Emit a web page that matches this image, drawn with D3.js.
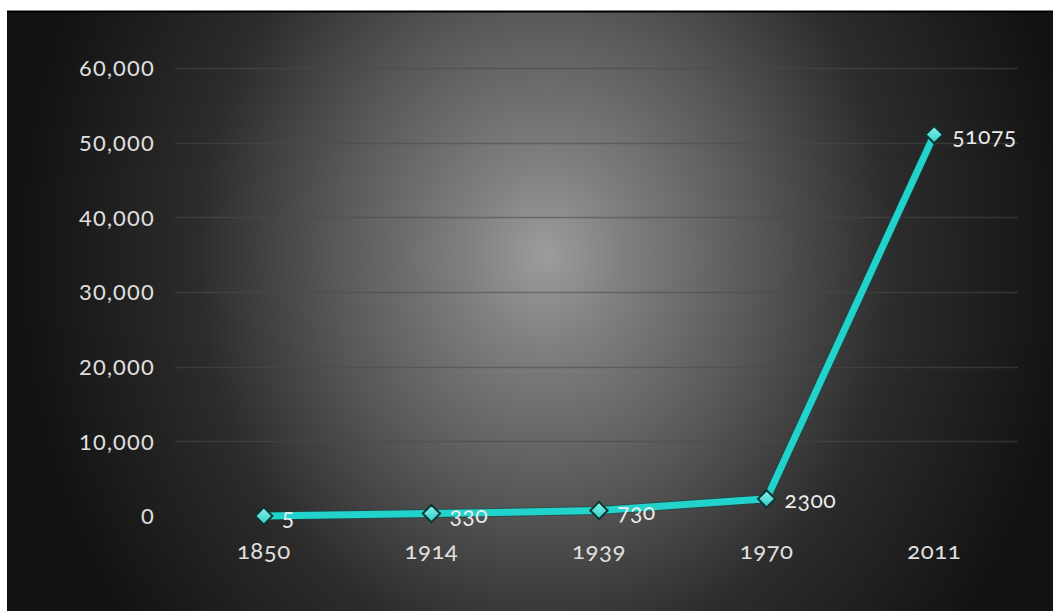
<!DOCTYPE html>
<html>
<head>
<meta charset="utf-8">
<script src="https://cdn.jsdelivr.net/npm/d3@7"></script>
<style>
  html, body { margin: 0; padding: 0; background: #ffffff; }
  svg { display: block; }
  .lbl { font-family: Lato, "Open Sans", sans-serif; }
</style>
</head>
<body>
<svg id="chart" width="1053" height="611"></svg>
<script>
// Population by year
const years = ["1850", "1914", "1939", "1970", "2011"];
const values = [5, 330, 730, 2300, 51075];
const yTicks = [0, 10000, 20000, 30000, 40000, 50000, 60000];

const W = 1053, H = 611;
const svg = d3.select("#chart");

// Dark panel with a soft spotlight in the middle (slightly taller than wide)
const defs = svg.append("defs");
const bg = defs.append("radialGradient")
  .attr("id", "spot")
  .attr("gradientUnits", "userSpaceOnUse")
  .attr("cx", 0).attr("cy", 0).attr("r", 1)
  .attr("gradientTransform", "translate(545,255) scale(535,620)");
bg.append("stop").attr("offset", 0).attr("stop-color", "#9c9c9c");
bg.append("stop").attr("offset", 0.15).attr("stop-color", "#7f7f7f");
bg.append("stop").attr("offset", 0.4).attr("stop-color", "#575757");
bg.append("stop").attr("offset", 0.65).attr("stop-color", "#2c2c2c");
bg.append("stop").attr("offset", 1).attr("stop-color", "#111111");

const mk = defs.append("linearGradient")
  .attr("id", "marker").attr("x1", 0).attr("y1", 0).attr("x2", 0).attr("y2", 1);
mk.append("stop").attr("offset", 0).attr("stop-color", "#8ff0ec");
mk.append("stop").attr("offset", 1).attr("stop-color", "#2bcfc8");

svg.append("rect").attr("x", 7).attr("y", 11).attr("width", W - 7).attr("height", H - 11)
  .attr("fill", "url(#spot)");
svg.append("line").attr("x1", 7).attr("x2", W).attr("y1", 11.5).attr("y2", 11.5)
  .attr("stroke", "#000").attr("stroke-width", 2);

// Scales
const x = d3.scaleBand().domain(years).range([180, 1018]);
const y = d3.scaleLinear().domain([0, 60000]).range([516, 68]);
const cx = d => x(d) + x.bandwidth() / 2;

// Gridlines
svg.append("g").selectAll("line").data(yTicks.filter(t => t > 0)).join("line")
  .attr("x1", 175).attr("x2", 1018)
  .attr("y1", d => Math.round(y(d)) + 0.5).attr("y2", d => Math.round(y(d)) + 0.5)
  .attr("stroke", "#4a4a4a").attr("stroke-width", 1.4).attr("stroke-opacity", 0.55);

// Y axis labels
const yAxis = d3.axisLeft(y).tickValues(yTicks).tickSize(0).tickPadding(0)
  .tickFormat(d3.format(","));
const gy = svg.append("g").attr("transform", "translate(155,0)").call(yAxis);
gy.select(".domain").remove();
gy.selectAll("text").attr("class", "lbl")
  .attr("fill", "#e0e0e0").style("font-size", "22px")
  .style("letter-spacing", "1.2px").attr("dy", "0.35em");

// X axis labels
const xAxis = d3.axisBottom(x).tickSize(0).tickPadding(0);
const gx = svg.append("g").attr("transform", "translate(0,542)").call(xAxis);
gx.select(".domain").remove();
gx.selectAll("text").attr("class", "lbl")
  .attr("fill", "#e0e0e0").style("font-size", "24px")
  .style("letter-spacing", "0.5px")
  .style("font-variant-numeric", "oldstyle-nums");

// Series line
const pts = years.map((yr, i) => ({ yr, v: values[i] }));
const line = d3.line().x(d => cx(d.yr)).y(d => y(d.v));
svg.append("path").datum(pts).attr("d", line)
  .attr("fill", "none").attr("stroke", "#0f4d4a").attr("stroke-width", 9)
  .attr("stroke-linejoin", "round").attr("stroke-opacity", 0.55);
svg.append("path").datum(pts).attr("d", line)
  .attr("fill", "none").attr("stroke", "#22d3cc").attr("stroke-width", 7)
  .attr("stroke-linejoin", "round");

// Diamond markers
svg.append("g").selectAll("path").data(pts).join("path")
  .attr("d", d3.symbol().type(d3.symbolDiamond2).size(190))
  .attr("transform", d => `translate(${cx(d.yr)},${y(d.v)})`)
  .attr("fill", "url(#marker)").attr("stroke", "#0b3533").attr("stroke-width", 2);

// Value labels
svg.append("g").selectAll("text").data(pts).join("text")
  .attr("class", "lbl")
  .attr("x", d => cx(d.yr) + 18)
  .attr("y", d => y(d.v) + 9)
  .attr("fill", "#ececec").style("font-size", "23px")
  .style("letter-spacing", "0.5px")
  .style("font-variant-numeric", "oldstyle-nums")
  .text(d => d.v);
</script>
</body>
</html>
